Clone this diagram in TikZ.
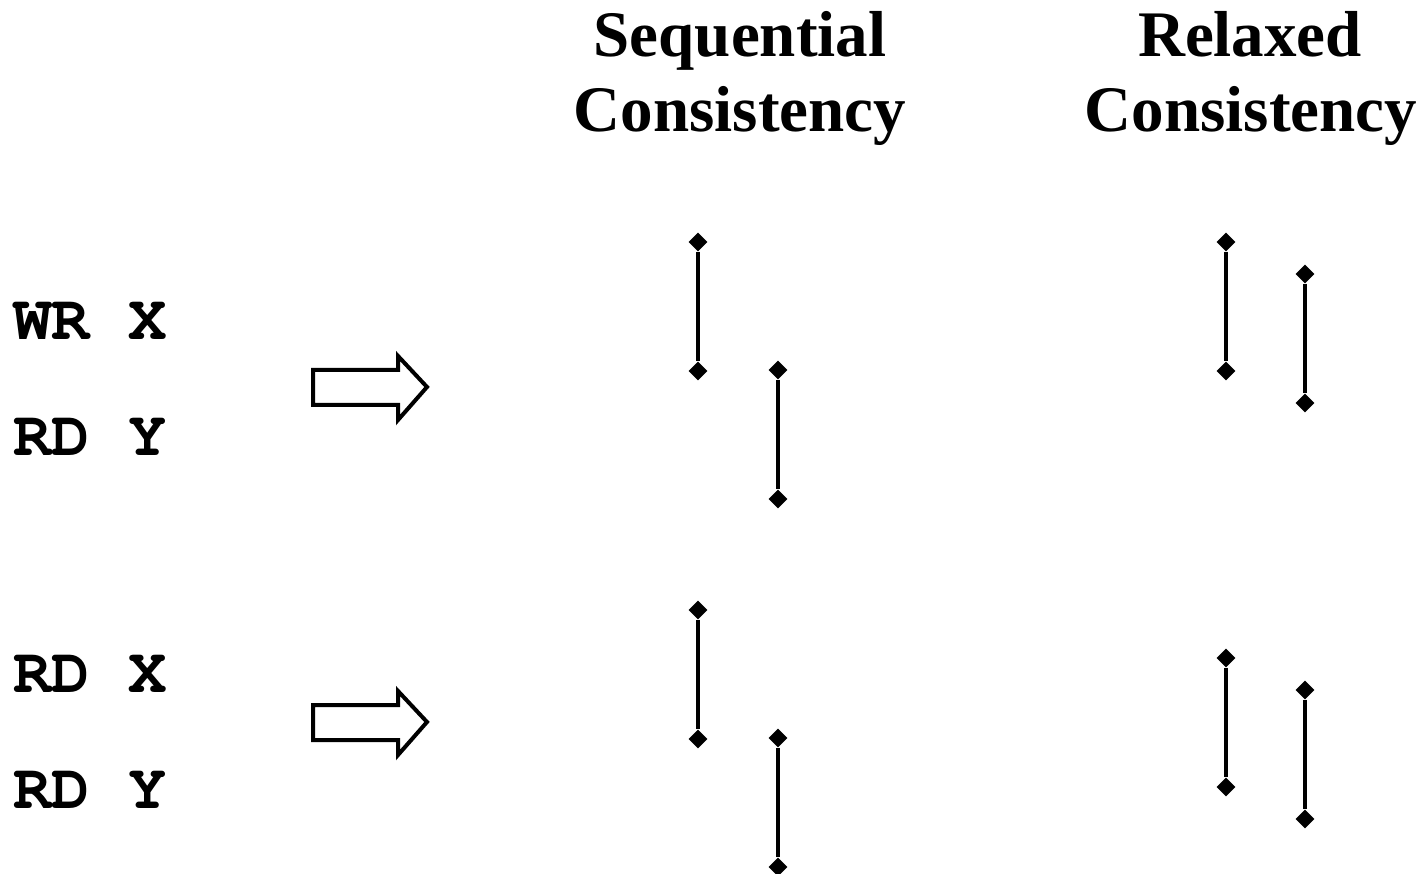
\documentclass[tikz,border=0pt]{standalone}
\usepackage{fontspec}
\setmainfont{Liberation Serif}
\usetikzlibrary{shapes.geometric}
% typewriter face with serifs, taken from the URW Courier clone
\newcommand{\courierbold}{\fontencoding{T1}\fontfamily{pcr}\fontseries{b}\selectfont}
\tikzset{
  title/.style={font=\fontsize{65}{75}\selectfont\bfseries, align=center, inner sep=0pt, anchor=base},
  instr/.style={font=\fontsize{64}{64}\courierbold, inner sep=0pt, anchor=base west},
  endpt/.style={diamond, fill=black, inner sep=0pt, minimum width=19pt, minimum height=19pt},
  span/.style={line width=4pt},
  blockarrow/.style={line width=4pt, line join=miter, fill=white}
}
\newcommand{\opspan}[4]{%
  \node[endpt] (#1a) at (#2,#3) {};
  \node[endpt] (#1b) at (#2,#4) {};
  \draw[span] (#1a) -- (#1b);
}
\newcommand{\fatarrow}[2]{%
  \draw[blockarrow] (313,#2-17) -- (398,#2-17) -- (398,#2-31) -- (427,#2) --
    (398,#2+33) -- (398,#2+18) -- (313,#2+18) -- cycle;
  \coordinate (#1) at (370,#2);
}
\begin{document}
\begin{tikzpicture}[x=1pt, y=-1pt]
  \useasboundingbox (0,0) rectangle (1422,874);

  % column headings
  \node[title] (sc1) at (740,57) {Sequential};
  \node[title] (sc2) at (740,132) {Consistency};
  \node[title] (rc1) at (1250,57) {Relaxed};
  \node[title] (rc2) at (1251,132) {Consistency};

  % instruction pairs
  \node[instr] (wrx) at (13,340) {WR X};
  \node[instr] (rdy1) at (13,456) {RD Y};
  \node[instr] (rdx) at (13,692) {RD X};
  \node[instr] (rdy2) at (13,808) {RD Y};

  % transformation arrows
  \fatarrow{arr1}{387}
  \fatarrow{arr2}{722}

  % first pair: sequential consistency
  \opspan{s1}{698}{242}{371}
  \opspan{s2}{778}{370}{499}
  % first pair: relaxed consistency
  \opspan{r1}{1226}{242}{371}
  \opspan{r2}{1305}{274}{403}

  % second pair: sequential consistency
  \opspan{s3}{698}{610}{739}
  \opspan{s4}{778}{738}{867}
  % second pair: relaxed consistency
  \opspan{r3}{1226}{658}{787}
  \opspan{r4}{1305}{690}{819}
\end{tikzpicture}
\end{document}
